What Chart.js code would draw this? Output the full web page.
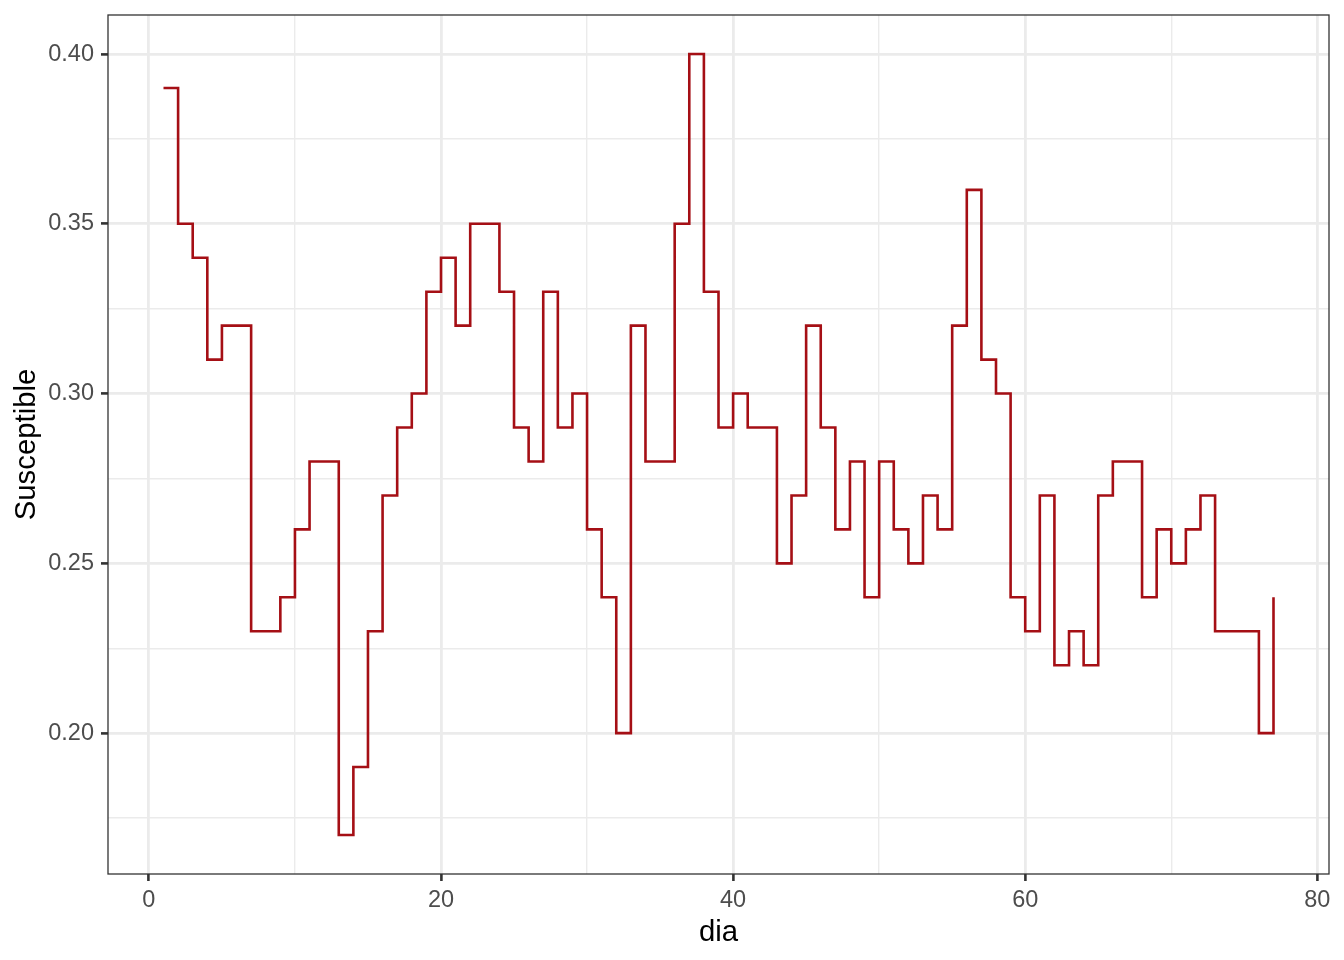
<!DOCTYPE html>
<html>
<head>
<meta charset="utf-8">
<script src="https://cdn.jsdelivr.net/npm/chart.js@4"></script>
<style>
  html, body { margin: 0; padding: 0; background: #ffffff; }
  #wrap { width: 1344px; height: 960px; position: relative; }
</style>
</head>
<body>
<div id="wrap"><canvas id="c" width="1344" height="960"></canvas></div>
<script>
// ---- data ----
const dia = [];
for (let i = 1; i <= 77; i++) dia.push(i);
const susceptible = [
  0.39, 0.35, 0.34, 0.31, 0.32, 0.32, 0.23, 0.23, 0.24, 0.26,
  0.28, 0.28, 0.17, 0.19, 0.23, 0.27, 0.29, 0.30, 0.33, 0.34,
  0.32, 0.35, 0.35, 0.33, 0.29, 0.28, 0.33, 0.29, 0.30, 0.26,
  0.24, 0.20, 0.32, 0.28, 0.28, 0.35, 0.40, 0.33, 0.29, 0.30,
  0.29, 0.29, 0.25, 0.27, 0.32, 0.29, 0.26, 0.28, 0.24, 0.28,
  0.26, 0.25, 0.27, 0.26, 0.32, 0.36, 0.31, 0.30, 0.24, 0.23,
  0.27, 0.22, 0.23, 0.22, 0.27, 0.28, 0.28, 0.24, 0.26, 0.25,
  0.26, 0.27, 0.23, 0.23, 0.23, 0.20, 0.24
];
const xMajorTicks = [0, 20, 40, 60, 80];
const xMinorTicks = [10, 30, 50, 70];
const yMajorTicks = [0.20, 0.25, 0.30, 0.35, 0.40];
const yMinorTicks = [0.175, 0.225, 0.275, 0.325, 0.375];
const xLabel = 'dia';
const yLabel = 'Susceptible';

const points = dia.map((d, i) => ({ x: d, y: susceptible[i] }));

const gridCol = '#EBEBEB';
const textCol = '#4D4D4D';
const axisCol = '#333333';
const FONT = "'Liberation Sans', Arial, sans-serif";

function isMajor(list, v) { return list.some(t => Math.abs(t - v) < 1e-9); }

const panelBorder = {
  id: 'panelBorder',
  afterDraw(chart) {
    const a = chart.chartArea, ctx = chart.ctx;
    ctx.save();
    ctx.strokeStyle = axisCol;
    ctx.lineWidth = 1.3;
    ctx.strokeRect(a.left, a.top, a.right - a.left, a.bottom - a.top);
    ctx.restore();
  }
};

new Chart(document.getElementById('c'), {
  type: 'line',
  data: {
    datasets: [{
      data: points,
      stepped: 'before',
      borderColor: '#A50F15',
      borderWidth: 2.6,
      pointRadius: 0,
      fill: false,
      tension: 0
    }]
  },
  options: {
    responsive: false,
    animation: false,
    devicePixelRatio: 1,
    layout: { padding: { top: 15, right: 15, left: 0, bottom: 0 } },
    plugins: { legend: { display: false }, tooltip: { enabled: false } },
    scales: {
      x: {
        type: 'linear',
        min: -2.8, max: 80.8,
        afterFit(s) { s.height = 86; s.paddingLeft = 0; s.paddingRight = 0; },
        afterBuildTicks(s) {
          s.ticks = xMinorTicks.concat(xMajorTicks).sort((a, b) => a - b).map(v => ({ value: v }));
        },
        ticks: {
          autoSkip: false, maxRotation: 0,
          padding: 5,
          color: textCol,
          font: { family: FONT, size: 23.5 },
          callback(v) { return isMajor(xMajorTicks, v) ? String(v) : ''; }
        },
        grid: {
          drawOnChartArea: true,
          color: gridCol,
          lineWidth: ctx => isMajor(xMajorTicks, ctx.tick.value) ? 2.8 : 1.4,
          tickLength: 7,
          tickColor: ctx => isMajor(xMajorTicks, ctx.tick.value) ? axisCol : 'rgba(0,0,0,0)',
          tickWidth: 2.6
        },
        border: { display: false },
        title: {
          display: true, text: xLabel, color: '#000000',
          font: { family: FONT, size: 29.3 },
          padding: { top: 0, bottom: 10 }
        }
      },
      y: {
        type: 'linear',
        min: 0.1585, max: 0.4115,
        afterFit(s) { s.width = 108; s.paddingTop = 0; s.paddingBottom = 0; },
        afterBuildTicks(s) {
          s.ticks = yMinorTicks.concat(yMajorTicks).sort((a, b) => a - b).map(v => ({ value: v }));
        },
        ticks: {
          autoSkip: false,
          padding: 7,
          color: textCol,
          font: { family: FONT, size: 23.5 },
          callback(v) { return isMajor(yMajorTicks, v) ? v.toFixed(2) : ''; }
        },
        grid: {
          color: gridCol,
          lineWidth: ctx => isMajor(yMajorTicks, ctx.tick.value) ? 2.8 : 1.4,
          tickLength: 7,
          tickColor: ctx => isMajor(yMajorTicks, ctx.tick.value) ? axisCol : 'rgba(0,0,0,0)',
          tickWidth: 2.6
        },
        border: { display: false },
        title: {
          display: true, text: yLabel, color: '#000000',
          font: { family: FONT, size: 29.3 },
          padding: { top: 9, bottom: 0 }
        }
      }
    }
  },
  plugins: [panelBorder]
});
</script>
</body>
</html>
